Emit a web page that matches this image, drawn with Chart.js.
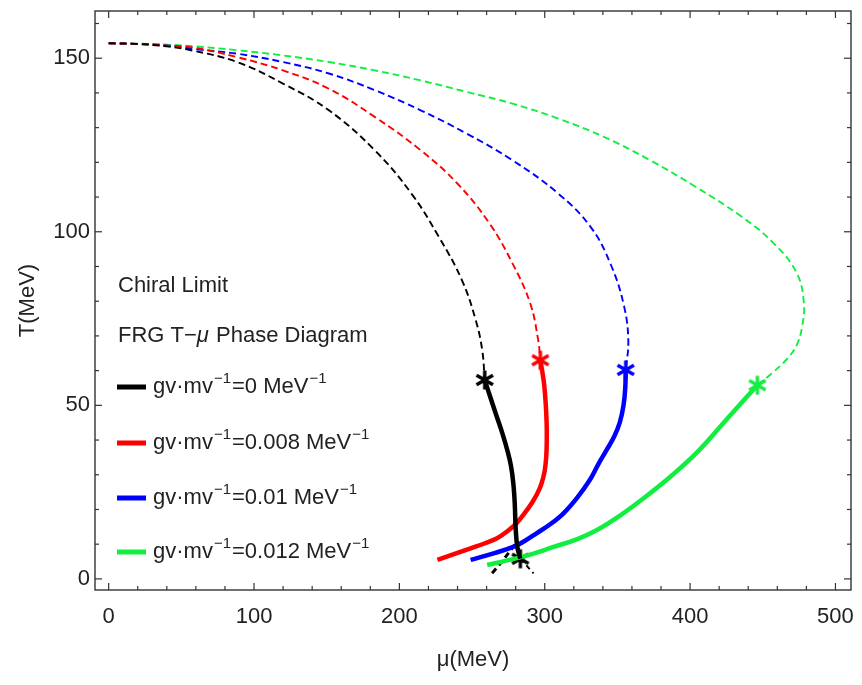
<!DOCTYPE html>
<html>
<head>
<meta charset="utf-8">
<script src="https://cdn.jsdelivr.net/npm/chart.js@4.4.1/dist/chart.umd.min.js"></script>
<style>
  html, body { margin: 0; padding: 0; background: #fff; }
</style>
</head>
<body>
<canvas id="phaseChart" width="862" height="685"></canvas>
<script>
// crossover lines (dashed), mu in MeV / T in MeV
const crossMu0 = [0, 20, 40, 56.7, 88.4, 119.9, 151.5, 183, 208.3, 227.2, 243, 252.5, 257, 258.7];
const crossT0  = [154.3, 154.1, 153.4, 152.3, 148.9, 142.7, 135, 123.5, 111, 98.5, 86.1, 74.6, 65.9, 57.3];
const crossMu1 = [0, 20, 40, 56.7, 88.4, 119.9, 151.5, 183, 214.6, 239.9, 262, 277.8, 290, 295.5, 297];
const crossT1  = [154.3, 154.1, 153.6, 153.2, 150.3, 146.5, 141.2, 133.1, 123.5, 113.9, 102.4, 90.9, 79.4, 68.8, 63];
const crossMu2 = [0, 20, 40, 60, 88.4, 119.9, 151.5, 183, 214.6, 246.2, 277.8, 309.3, 331.4, 345.5, 354.6, 357.5, 355.7];
const crossT2  = [154.3, 154.1, 153.7, 152.6, 151.3, 148.9, 145.6, 140.8, 135, 128.3, 120.6, 111, 101.5, 90.5, 78.5, 68.5, 60.2];
const crossMu3 = [0, 20, 40, 60, 88.4, 119.9, 151.5, 183, 214.6, 246.2, 277.8, 309.3, 340.9, 372.5, 404, 435.6, 457.7, 473.5, 478.3, 477.2, 473.5, 467, 457, 446.3];
const crossT3  = [154.3, 154.2, 153.9, 153.4, 152.3, 150.8, 148.9, 146.5, 143.6, 140.3, 136.9, 132.6, 127.3, 120.6, 112.9, 104.3, 96.6, 88, 79.4, 73, 67.5, 63.5, 59.5, 55.8];

// first-order lines (solid)
const firstMu0 = [258.7, 262.7, 266.8, 270.8, 274.3, 276.8, 278.4, 279.4, 280, 281.2, 283.2];
const firstT0  = [57.3, 52.2, 47, 42, 37, 32.5, 27.5, 21.5, 14.5, 9, 5.8];
const firstMu1 = [297, 299.3, 300.6, 301.3, 301.4, 301, 299.9, 297.8, 294.8, 291, 286.3, 280.5, 274.5, 267.2, 258.5, 249, 238, 226.2];
const firstT1  = [63, 57, 51, 45, 40, 35, 31, 27.5, 24.5, 21.8, 19, 16, 13.8, 11.7, 10.2, 8.8, 7.2, 5.5];
const firstMu2 = [355.7, 355.4, 354.2, 351.6, 347.8, 342.5, 336.8, 331, 322.5, 312.9, 304, 294.6, 286.5, 278.7, 266, 249];
const firstT2  = [60.2, 55, 50, 45, 41, 37.1, 33, 28.5, 23.5, 18.9, 15.8, 13.2, 11, 9.3, 7.5, 5.5];
const firstMu3 = [446.3, 426.3, 406.3, 388, 369.8, 352, 335.6, 322, 306, 290, 275, 260.4];
const firstT3  = [55.8, 46.5, 37.1, 30, 23.8, 18.3, 14, 11.4, 9.2, 7, 5.4, 4.0];

// short low-T branches of the gv=0 line
const lowLeftMu = [279.3, 271, 262.9];
const lowLeftT  = [9.8, 5.2, 1.2];
const lowRightMu = [283.2, 292.3];
const lowRightT  = [5.8, 1.6];

// critical end points
const cepMu = [258.7, 297, 355.7, 446.3];
const cepT  = [57.3, 63, 60.2, 55.8];
const lowCepMu = [283.2];
const lowCepT  = [5.8];

const xTickLabels = [0, 100, 200, 300, 400, 500];
const yTickLabels = [0, 50, 100, 150];

const colors = ["#000000", "#ff0000", "#0000ff", "#10ee40"];
const legendLabels = ["0", "0.008", "0.01", "0.012"];

const zip = (xs, ys) => xs.map((v, i) => ({ x: v, y: ys[i] }));

function makeStar(color) {
    const c = document.createElement("canvas");
    c.width = 22; c.height = 24;
    const g = c.getContext("2d");
    g.strokeStyle = color;
    g.lineWidth = 3.4;
    const cx = 11, cy = 12, r = 9.5;
    for (let k = 0; k < 3; k++) {
        const a = Math.PI / 2 + k * Math.PI / 3;
        g.beginPath();
        g.moveTo(cx + r * Math.cos(a), cy + r * Math.sin(a));
        g.lineTo(cx - r * Math.cos(a), cy - r * Math.sin(a));
        g.stroke();
    }
    return c;
}

const crossSets = [[crossMu0, crossT0], [crossMu1, crossT1], [crossMu2, crossT2], [crossMu3, crossT3]];
const firstSets = [[firstMu0, firstT0], [firstMu1, firstT1], [firstMu2, firstT2], [firstMu3, firstT3]];

const datasets = [];
crossSets.forEach(([m, t], i) => datasets.push({
    data: zip(m, t), showLine: true, borderColor: colors[i], borderWidth: 1.9,
    borderDash: [7, 4], pointRadius: 0, tension: 0.4, fill: false
}));
firstSets.forEach(([m, t], i) => datasets.push({
    data: zip(m, t), showLine: true, borderColor: colors[i], borderWidth: 4.5,
    pointRadius: 0, tension: 0.4, fill: false
}));
datasets.push({
    data: zip(lowLeftMu, lowLeftT), showLine: true, borderColor: "#000", borderWidth: 3,
    borderDash: [6, 4], pointRadius: 0, tension: 0.2
});
datasets.push({
    data: zip(lowRightMu, lowRightT), showLine: true, borderColor: "#000", borderWidth: 2,
    borderDash: [5, 4], pointRadius: 0
});
cepMu.forEach((m, i) => datasets.push({
    data: [{ x: m, y: cepT[i] }], showLine: false, pointStyle: makeStar(colors[i]), pointRadius: 10
}));
datasets.push({
    data: zip(lowCepMu, lowCepT), showLine: false, pointStyle: makeStar("#000"), pointRadius: 10
});

const FONT = "'Liberation Sans', Arial, sans-serif";
const TEXT = "#222";

// inward ticks on all four sides plus the frame
const frameTicks = {
    id: "frameTicks",
    afterDraw(chart) {
        const { ctx, chartArea: a, scales: { x, y } } = chart;
        ctx.save();
        ctx.strokeStyle = "#333";
        ctx.lineWidth = 1.4;
        ctx.strokeRect(a.left, a.top, a.right - a.left, a.bottom - a.top);
        ctx.lineWidth = 1.2;
        const seg = (x1, y1, x2, y2) => { ctx.beginPath(); ctx.moveTo(x1, y1); ctx.lineTo(x2, y2); ctx.stroke(); };
        for (let v = 0; v <= 500; v += 20) {
            const px = x.getPixelForValue(v);
            const len = v % 100 === 0 ? 7 : 4;
            seg(px, a.bottom, px, a.bottom - len);
            seg(px, a.top, px, a.top + len);
        }
        for (let v = 0; v <= 160; v += 10) {
            const py = y.getPixelForValue(v);
            const len = v % 50 === 0 ? 7 : 4;
            seg(a.left, py, a.left + len, py);
            seg(a.right, py, a.right - len, py);
        }
        ctx.restore();
    }
};

// in-plot legend with superscripts
const plotLegend = {
    id: "plotLegend",
    afterDraw(chart) {
        const ctx = chart.ctx;
        ctx.save();
        ctx.fillStyle = TEXT;
        ctx.textBaseline = "middle";
        ctx.textAlign = "left";
        const main = "22px " + FONT;
        const sup = "15px " + FONT;
        const put = (txt, x, y, font) => { ctx.font = font; ctx.fillText(txt, x, y); return x + ctx.measureText(txt).width; };

        put("Chiral Limit", 118, 286, main);
        let cx = put("FRG T\u2212", 118, 336, main);
        cx = put("\u03bc", cx, 336, "italic 22px " + FONT);
        put(" Phase Diagram", cx + 1, 336, main);

        const rows = [387, 443, 498, 552];
        rows.forEach((ry, i) => {
            ctx.strokeStyle = colors[i];
            ctx.lineWidth = 5;
            ctx.beginPath(); ctx.moveTo(117, ry); ctx.lineTo(146, ry); ctx.stroke();
            let tx = put("gv\u00b7mv", 153, ry, main);
            tx = put("\u22121", tx + 1, ry - 8, sup);
            tx = put("=" + legendLabels[i] + " MeV", tx + 1, ry, main);
            put("\u22121", tx + 1, ry - 8, sup);
        });
        ctx.restore();
    }
};

new Chart(document.getElementById("phaseChart"), {
    type: "scatter",
    data: { datasets },
    options: {
        responsive: false,
        animation: false,
        layout: { padding: { top: 10.7, right: 6, left: 0, bottom: 0 } },
        plugins: { legend: { display: false }, tooltip: { enabled: false } },
        scales: {
            x: {
                type: "linear", min: -9.4, max: 510.7,
                afterBuildTicks: s => { s.ticks = xTickLabels.map(v => ({ value: v })); },
                afterFit: s => { s.height = 95; s.paddingLeft = 0; s.paddingRight = 0; },
                grid: { display: false, drawTicks: false },
                border: { display: false },
                ticks: { padding: 14, color: TEXT, font: { family: FONT, size: 22 }, maxRotation: 0 },
                title: { display: true, text: "\u03bc(MeV)", color: TEXT, font: { family: FONT, size: 22 }, padding: { top: 0, bottom: 12 } }
            },
            y: {
                type: "linear", min: -3.2, max: 163.6,
                afterBuildTicks: s => { s.ticks = yTickLabels.map(v => ({ value: v })); },
                afterFit: s => { s.width = 95; s.paddingTop = 0; s.paddingBottom = 0; },
                grid: { display: false, drawTicks: false },
                border: { display: false },
                ticks: { padding: 5, color: TEXT, font: { family: FONT, size: 22 } },
                title: { display: true, text: "T(MeV)", color: TEXT, font: { family: FONT, size: 22 }, padding: { top: 15, bottom: 0 } }
            }
        }
    },
    plugins: [frameTicks, plotLegend]
});
</script>
</body>
</html>
